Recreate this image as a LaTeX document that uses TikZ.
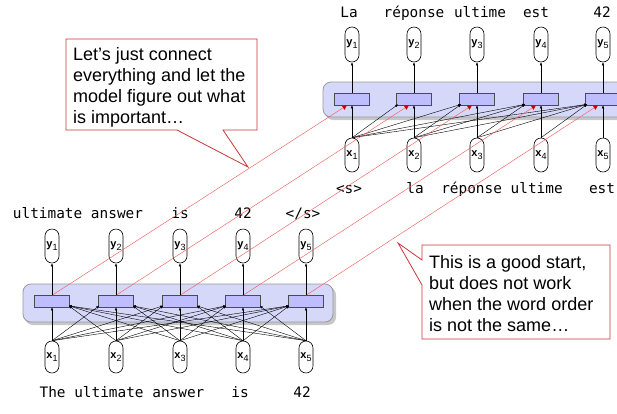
\documentclass[tikz,border=0pt]{standalone}
\usepackage{fontspec}
\setmainfont{Liberation Sans}
\setmonofont{DejaVu Sans Mono}
\usetikzlibrary{arrows.meta}
\definecolor{noteRed}{RGB}{200,55,60}
\definecolor{linkRed}{RGB}{238,95,95}
\definecolor{panelBlue}{RGB}{214,216,250}
\definecolor{cellBlue}{RGB}{190,190,255}
\newcommand{\vsub}[2]{\textbf{#1}\raisebox{-3pt}{\fontsize{9}{9}\selectfont #2}}
\begin{document}
\begin{tikzpicture}[x=1pt, y=-1pt,
  word/.style={font=\fontsize{14.4}{16}\ttfamily, inner sep=0pt, anchor=base},
  io/.style={draw, fill=white, rounded corners=7pt, minimum width=14pt,
    inner sep=0pt, line width=0.6pt, font=\fontsize{11}{12}\selectfont},
  cell/.style={draw=black!70, fill=cellBlue, minimum width=35pt,
    minimum height=12pt, inner sep=0pt, line width=0.6pt},
  panel/.style={draw=black!40, fill=panelBlue, rounded corners=8pt, line width=0.8pt},
  wire/.style={-{Latex[length=3pt,width=2.5pt]}, line width=0.4pt},
  link/.style={linkRed, line width=0.45pt,
    -{Latex[length=4.5pt,width=5pt,color=red!80!black]}},
  note/.style={font=\fontsize{18}{21}\selectfont, align=left, inner sep=0pt, anchor=north west},
  callout/.style={draw=noteRed, fill=white, line width=0.8pt, line join=miter}]

  \useasboundingbox (0,0) rectangle (617,413);
  \clip (0,0) rectangle (617,413);

  % --- panels (with shadow) ---
  \fill[black!22, rounded corners=8pt] (25,287) rectangle (336,325);
  \draw[panel] (23,284) rectangle (333,322);
  \fill[black!22, rounded corners=8pt] (325,85) rectangle (650,120);
  \draw[panel] (323,82) rectangle (650,117);

  % --- encoder: cells, inputs, outputs ---
  \foreach \i/\x in {1/52,2/116,3/180,4/243,5/306} {
    \node[cell] (eh\i) at (\x,301) {};
    \node[io, minimum height=34pt] (ey\i) at (\x,246) {\vsub{y}{\i}};
    \node[io, minimum height=32pt] (ex\i) at (\x,357) {\vsub{x}{\i}};
    \draw[wire] (eh\i) -- (ey\i);
    \draw[wire] (ex\i) -- (eh\i);
  }
  % every input to every cell
  \foreach \j in {1,...,5}
    \foreach \i in {1,...,5} {
      \ifnum\j<\i \draw[wire] (ex\j.north) -- ([xshift=1pt,yshift=1.5pt]eh\i.south west); \fi
      \ifnum\j>\i \draw[wire] (ex\j.north) -- ([xshift=-1pt,yshift=1.5pt]eh\i.south east); \fi
    }

  % --- decoder: cells, inputs, outputs ---
  \foreach \i/\x in {1/352,2/414,3/477,4/541,5/603} {
    \node[cell] (dh\i) at (\x,99) {};
    \node[io, minimum height=35pt] (dy\i) at (\x,44.5) {\vsub{y}{\i}};
    \node[io, minimum height=34pt] (dx\i) at (\x,155) {\vsub{x}{\i}};
    \draw[wire] (dh\i) -- (dy\i);
    \draw[wire] (dx\i) -- (dh\i);
  }
  % only earlier inputs
  \foreach \j in {1,...,5}
    \foreach \i in {1,...,5} {
      \ifnum\j<\i \draw[wire] (dx\j.north) -- ([xshift=2pt,yshift=1pt]dh\i.south west); \fi
    }

  % --- words ---
  \node[word] (et1) at (78,218) {ultimate answer};
  \node[word] (et2) at (180,218) {is};
  \node[word] (et3) at (243,218) {42};
  \node[word] (et4) at (303,218) {</s>};
  \node[word] (eb1) at (122,397) {The ultimate answer};
  \node[word] (eb2) at (240,397) {is};
  \node[word] (eb3) at (302,397) {42};
  \node[word] (dt1) at (349,17) {La};
  \node[word] (dt2) at (414,17) {réponse};
  \node[word] (dt3) at (480,17) {ultime};
  \node[word] (dt4) at (536,17) {est};
  \node[word] (dt5) at (602,17) {42};
  \node[word] (db1) at (349,193) {<s>};
  \node[word] (db2) at (415,193) {la};
  \node[word] (db3) at (502,193) {réponse ultime};
  \node[word] (db4) at (602,193) {est};

  % --- encoder state -> decoder state ---
  \foreach \i in {1,...,5}
    \draw[link] ([xshift=1pt]eh\i.north) -- ([xshift=-5pt]dh\i.south);

  % --- callouts ---
  \draw[callout] (66,39) -- (257,39) -- (257,130) -- (223,130) -- (248,167)
    -- (177,130) -- (66,130) -- cycle;
  \node[note] (note1) at (73,47) {Let’s just connect\\everything and let the\\model figure out what\\is important…};
  \draw[callout] (422,245) -- (610,245) -- (610,339) -- (422,339) -- (422,285)
    -- (398,243) -- (422,260) -- cycle;
  \node[note] (note2) at (429,255) {This is a good start,\\but does not work\\when the word order\\is not the same…};

\end{tikzpicture}
\end{document}
